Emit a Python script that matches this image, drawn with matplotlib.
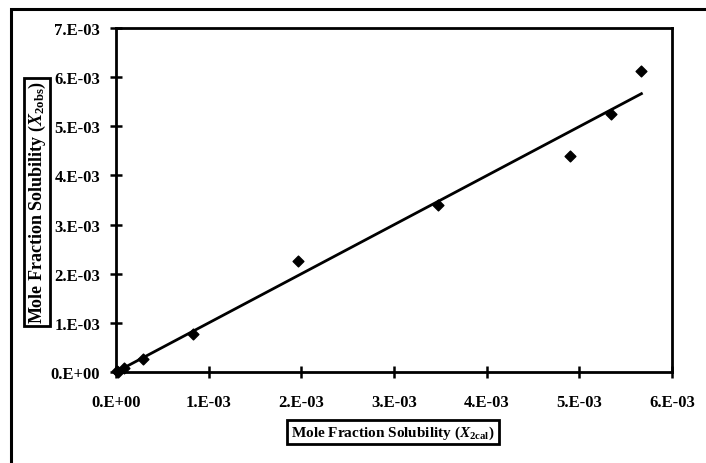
import numpy as np
import matplotlib
matplotlib.use("Agg")
import matplotlib.pyplot as plt
from matplotlib.patches import Rectangle
from matplotlib.ticker import FixedLocator

# Data (mole fractions)
x_cal = [0.00001, 0.00002, 0.00009, 0.00029, 0.00083, 0.00196, 0.00348, 0.00490, 0.00534, 0.00567]
x_obs = [0.00003, 0.00001, 0.00009, 0.00027, 0.00078, 0.00226, 0.00340, 0.00440, 0.00525, 0.00612]
x_ticks = [0.0, 0.001, 0.002, 0.003, 0.004, 0.005, 0.006]
x_tick_labels = ["0.E+00", "1.E-03", "2.E-03", "3.E-03", "4.E-03", "5.E-03", "6.E-03"]
y_ticks = [0.0, 0.001, 0.002, 0.003, 0.004, 0.005, 0.006, 0.007]
y_tick_labels = ["0.E+00", "1.E-03", "2.E-03", "3.E-03", "4.E-03", "5.E-03", "6.E-03", "7.E-03"]

plt.rcParams['font.family'] = ['Liberation Serif', 'DejaVu Serif']
plt.rcParams['font.weight'] = 'bold'
plt.rcParams['mathtext.fontset'] = 'custom'
plt.rcParams['mathtext.rm'] = 'Liberation Serif:bold'
plt.rcParams['mathtext.it'] = 'Liberation Serif:italic:bold'
plt.rcParams['mathtext.bf'] = 'Liberation Serif:bold'

fig = plt.figure(figsize=(7.06, 4.64), dpi=100)
fig.patches.append(Rectangle((10.5 / 706, -0.1), 1.0, 1.1 - 9.5 / 464, transform=fig.transFigure,
                             fill=False, edgecolor='black', linewidth=2.2, zorder=0))

ax = fig.add_axes([116 / 706, 1 - 373 / 464, (672 - 116) / 706, (373 - 29) / 464])

xa = np.array(x_cal)
ya = np.array(x_obs)
slope = np.sum(xa * ya) / np.sum(xa * xa)  # fit forced through origin
xl = np.array([xa.min(), xa.max()])
ax.plot(xl, slope * xl, color='black', linewidth=2.0, zorder=2)
ax.scatter(x_cal, x_obs, marker='D', s=30, color='black', zorder=3, clip_on=False)

ax.set_xlim(0, 0.006)
ax.set_ylim(0, 0.007)
ax.xaxis.set_major_locator(FixedLocator(x_ticks))
ax.yaxis.set_major_locator(FixedLocator(y_ticks))
ax.set_xticklabels(x_tick_labels)
ax.set_yticklabels(y_tick_labels)
ax.tick_params(direction='inout', length=9, width=1.8, labelsize=12)
ax.tick_params(axis='x', pad=11)
ax.tick_params(axis='y', pad=7)
for lbl in ax.get_xticklabels() + ax.get_yticklabels():
    lbl.set_fontweight('bold')
for s in ax.spines.values():
    s.set_linewidth(2.0)

box_x = dict(boxstyle='square,pad=0.25', facecolor='white', edgecolor='black', linewidth=2.0)
box_y = dict(boxstyle='square,pad=0.12', facecolor='white', edgecolor='black', linewidth=2.0)
fig.text(393 / 706, 1 - 433 / 464, r'Mole Fraction Solubility ($X_{\mathrm{2cal}}$)',
         ha='center', va='center', fontsize=11, fontweight='bold', bbox=box_x)
fig.text(37 / 706, 1 - 203 / 464, r'Mole Fraction Solubility ($X_{\mathrm{2obs}}$)',
         ha='center', va='center', rotation=90, fontsize=13, fontweight='bold', bbox=box_y)

fig.savefig('out.png', dpi=100)
